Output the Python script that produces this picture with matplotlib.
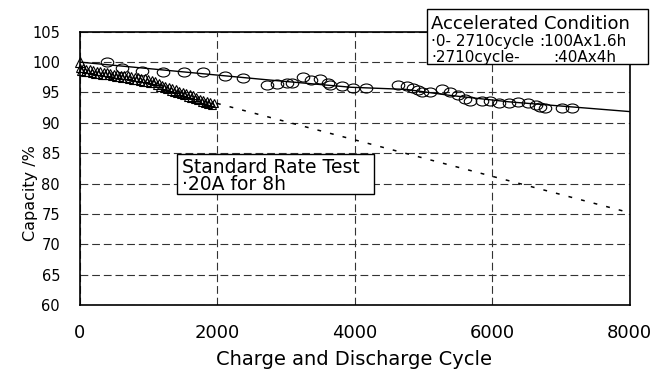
import numpy as np
import matplotlib
matplotlib.use("Agg")
import matplotlib.pyplot as plt
import matplotlib.transforms as mtransforms
from matplotlib.path import Path
from matplotlib.patches import Rectangle

# accelerated condition test (circles)
acc_cycle = [396, 623, 913, 1219, 1524, 1801, 2116, 2371, 2723, 2868, 3014, 3091,
             3247, 3367, 3498, 3619, 3644, 3814, 3978, 4167, 4637, 4759, 4847, 4928,
             4978, 5098, 5268, 5389, 5510, 5607, 5680, 5850, 5971, 6106, 6252, 6383,
             6528, 6640, 6698, 6771, 7014, 7159]
acc_cap = [100.0, 99.1, 98.6, 98.3, 98.4, 98.4, 97.7, 97.3, 96.2, 96.4, 96.6, 96.6,
           97.5, 97.0, 97.2, 96.6, 96.2, 96.1, 95.8, 95.8, 96.2, 96.0, 95.7, 95.4,
           95.0, 95.0, 95.6, 95.1, 94.6, 93.9, 93.6, 93.6, 93.6, 93.3, 93.3, 93.5,
           93.3, 92.9, 92.6, 92.5, 92.5, 92.5]

# standard rate test (triangles)
std_cycle = [0, 25, 50, 75, 100, 125, 150, 175, 200, 225, 250, 275, 300, 325, 350,
             375, 400, 425, 450, 475, 500, 525, 550, 575, 600, 625, 650, 675, 700,
             725, 750, 775, 800, 825, 850, 875, 900, 925, 950, 975, 1000, 1025, 1050,
             1075, 1100, 1125, 1150, 1175, 1200, 1225, 1250, 1275, 1300, 1325, 1350,
             1375, 1400, 1425, 1450, 1475, 1500, 1525, 1550, 1575, 1600, 1625, 1650,
             1675, 1700, 1725, 1750, 1775, 1800, 1825, 1850, 1875, 1900, 1925, 1950]
std_cap = [99.1, 98.5, 99.0, 98.4, 98.9, 98.3, 98.8, 98.2, 98.7, 98.1, 98.6, 98.0,
           98.5, 97.9, 98.4, 97.8, 98.3, 97.8, 98.2, 97.7, 98.1, 97.6, 98.0, 97.5,
           97.9, 97.4, 97.8, 97.3, 97.8, 97.2, 97.7, 97.1, 97.6, 97.0, 97.5, 96.9,
           97.4, 96.8, 97.3, 96.7, 97.2, 96.6, 97.1, 96.5, 96.9, 96.2, 96.6, 95.9,
           96.3, 95.7, 96.1, 95.5, 95.9, 95.3, 95.7, 95.1, 95.5, 94.9, 95.3, 94.7,
           95.1, 94.5, 94.9, 94.3, 94.7, 94.1, 94.5, 93.9, 94.3, 93.7, 94.0, 93.5,
           93.8, 93.3, 93.6, 93.1, 93.4, 93.0, 93.2]
std_start = (0, 100.0)

# trend lines
acc_fit_cycle = [0, 2710, 3950, 4750, 5400, 6250, 8000]
acc_fit_cap = [100.0, 97.1, 95.85, 95.5, 94.5, 93.45, 91.85]
std_fit_cycle = [2000, 8000]
std_fit_cap = [93.2, 75.2]

x_ticks = [0, 2000, 4000, 6000, 8000]
y_ticks = [60, 65, 70, 75, 80, 85, 90, 95, 100, 105]

fig = plt.figure(figsize=(6.53, 3.71), dpi=100)
ax = fig.add_axes([79.5 / 653, 1 - 305 / 371, 550 / 653, 273.3 / 371])

ax.set_xlim(0, 8000)
ax.set_ylim(60, 105)
ax.set_xticks(x_ticks)
ax.set_yticks(y_ticks)
ax.tick_params(axis="both", length=0)
ax.tick_params(axis="x", labelsize=13, pad=14)
ax.tick_params(axis="y", labelsize=10.5, pad=14)
ax.grid(True, color="#333333", lw=0.8, ls=(0, (7, 3.5)))
ax.set_axisbelow(True)
for s in ax.spines.values():
    s.set_linewidth(1.2)
    s.set_zorder(5)

ax.set_xlabel("Charge and Discharge Cycle", fontsize=14)
ax.xaxis.set_label_coords(0.5, -0.165)
ax.set_ylabel("Capacity /%", fontsize=11.5)
ax.yaxis.set_label_coords(-0.075, 0.408)

# elliptical circle marker as in the original figure
ell = Path.unit_circle().transformed(mtransforms.Affine2D().scale(1.0, 0.72))

ax.plot(acc_fit_cycle, acc_fit_cap, color="black", lw=1.0, zorder=3)
ax.plot(std_fit_cycle, std_fit_cap, color="black", lw=1.1, ls=(0, (2.5, 6)), zorder=3)
ax.plot(acc_cycle, acc_cap, ls="none", marker=ell, ms=9, mfc="none", mec="black",
        mew=0.8, zorder=4)
ax.plot(std_cycle, std_cap, ls="none", marker="^", ms=6, mfc="none", mec="black",
        mew=0.8, zorder=4, clip_on=False)
ax.plot([std_start[0]], [std_start[1]], ls="none", marker="^", ms=7.5, mfc="none",
        mec="black", mew=0.8, zorder=4, clip_on=False)

# annotation boxes
box1 = Rectangle((0.631, 0.881), 1.033 - 0.631, 1.083 - 0.881, transform=ax.transAxes,
                 facecolor="white", edgecolor="black", lw=1.0, clip_on=False, zorder=6)
ax.add_patch(box1)
ax.text(0.639, 1.028, "Accelerated Condition", transform=ax.transAxes, fontsize=13,
        va="center", ha="left", zorder=7)
ax.text(0.639, 0.964, "·0- 2710cycle", transform=ax.transAxes, fontsize=11,
        va="center", ha="left", zorder=7)
ax.text(0.836, 0.964, ":100Ax1.6h", transform=ax.transAxes, fontsize=11,
        va="center", ha="left", zorder=7)
ax.text(0.639, 0.906, "·2710cycle-", transform=ax.transAxes, fontsize=11,
        va="center", ha="left", zorder=7)
ax.text(0.8615, 0.906, ":40Ax4h", transform=ax.transAxes, fontsize=11,
        va="center", ha="left", zorder=7)

box2 = Rectangle((0.1767, 0.406), 0.5355 - 0.1767, 0.5525 - 0.406, transform=ax.transAxes,
                 facecolor="white", edgecolor="black", lw=1.0, clip_on=False, zorder=6)
ax.add_patch(box2)
ax.text(0.186, 0.472, "Standard Rate Test\n·20A for 8h", transform=ax.transAxes,
        fontsize=13.5, va="center", ha="left", linespacing=0.92, zorder=7)

fig.savefig("out.png", dpi=100)
